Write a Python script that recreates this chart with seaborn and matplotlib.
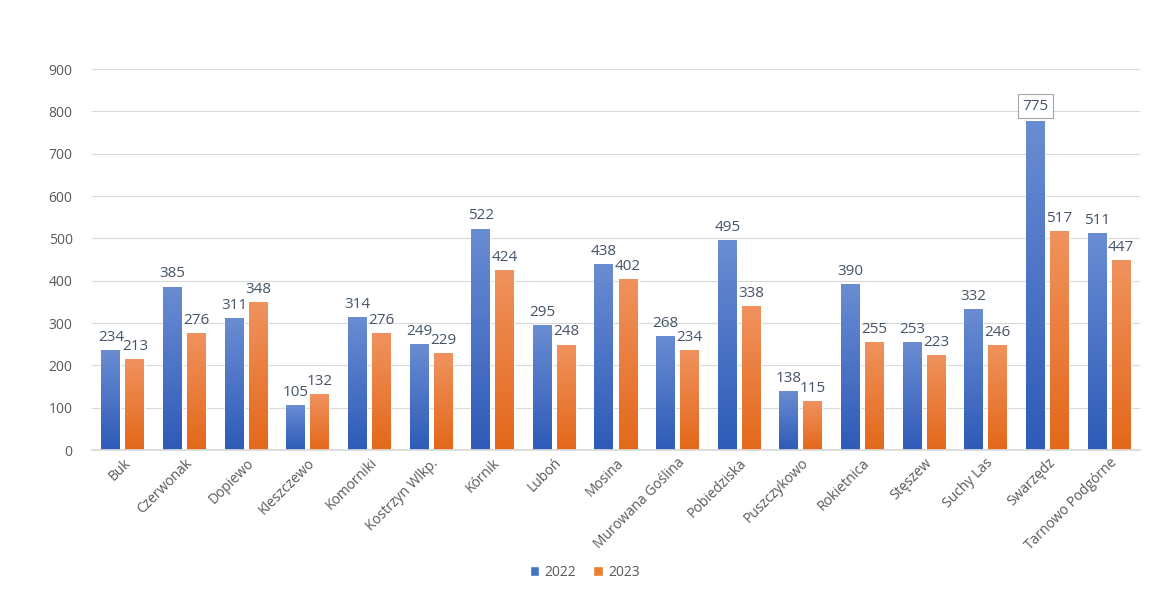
import numpy as np
import pandas as pd
import matplotlib
matplotlib.use("Agg")
import matplotlib.pyplot as plt
import matplotlib.colors as mcolors
from matplotlib.patches import Patch
import seaborn as sns

# Data
gminy = ['Buk', 'Czerwonak', 'Dopiewo', 'Kleszczewo', 'Komorniki', 'Kostrzyn Wlkp.',
         'Kórnik', 'Luboń', 'Mosina', 'Murowana Goślina', 'Pobiedziska', 'Puszczykowo',
         'Rokietnica', 'Stęszew', 'Suchy Las', 'Swarzędz', 'Tarnowo Podgórne']
values_2022 = [234, 385, 311, 105, 314, 249, 522, 295, 438, 268, 495, 138, 390, 253, 332, 775, 511]
values_2023 = [213, 276, 348, 132, 276, 229, 424, 248, 402, 234, 338, 115, 255, 223, 246, 517, 447]
years = ['2022', '2023']
y_ticks = list(range(0, 1000, 100))

# colours (top / bottom of gradient)
grad = {
    '2022': ('#6a8cd2', '#2e5bb8'),
    '2023': ('#f0925e', '#e3681a'),
}
legend_colors = {'2022': '#4472c4', '2023': '#ed7d31'}
text_color = '#595959'
label_color = '#44546a'

df = pd.DataFrame({
    'gmina': gminy * 2,
    'rok': ['2022'] * len(gminy) + ['2023'] * len(gminy),
    'value': values_2022 + values_2023,
})

sns.set_theme(style='white')
plt.rcParams['font.family'] = ['Open Sans', 'DejaVu Sans']

fig = plt.figure(figsize=(11.65, 5.94), dpi=100)
ax = fig.add_axes([0.079, 0.2424, 0.8995, 0.6414])

sns.barplot(data=df, x='gmina', y='value', hue='rok', hue_order=years,
            palette=legend_colors, width=0.78, gap=0.21, legend=False,
            saturation=1, ax=ax)

ax.set_ylim(0, 900)
ax.set_xlim(-0.5, len(gminy) - 0.5)
ax.autoscale(False)

# gradient fill of every bar (light at top, dark at bottom)
for year, container in zip(years, ax.containers):
    top, bottom = grad[year]
    cmap = mcolors.LinearSegmentedColormap.from_list('g' + year, [bottom, top])
    for bar in container:
        x, w, h = bar.get_x(), bar.get_width(), bar.get_height()
        img = np.linspace(0, 1, 256).reshape(-1, 1)
        ax.imshow(img, extent=[x, x + w, 0, h], origin='lower', aspect='auto',
                  cmap=cmap, vmin=0, vmax=1, zorder=2)
        bar.set_zorder(1)

# data labels; the maximum gets a boxed label like in the source chart
top_value = max(values_2022 + values_2023)
for year, container in zip(years, ax.containers):
    for bar in container:
        h = bar.get_height()
        cx = bar.get_x() + bar.get_width() / 2
        kw = {}
        dy = 4
        if h == top_value:
            kw['bbox'] = dict(boxstyle='square,pad=0.3', fc='white', ec='#a6a6a6', lw=0.8)
            dy = 6
        ax.annotate(f'{int(h)}', (cx, h), xytext=(0, dy), textcoords='offset points',
                    ha='center', va='bottom', fontsize=11, color=label_color, zorder=4, **kw)

ax.set_yticks(y_ticks)
ax.yaxis.grid(True, color='#d9d9d9', linewidth=0.8)
ax.set_axisbelow(True)
ax.tick_params(axis='y', labelsize=10, labelcolor=text_color, length=0, pad=14)
ax.tick_params(axis='x', labelsize=10, labelcolor=text_color, length=0, pad=4)
ax.set_xticks(range(len(gminy)))
ax.set_xticklabels(gminy, rotation=45, ha='right', rotation_mode='anchor')
ax.set_xlabel('')
ax.set_ylabel('')
for s in ['top', 'right', 'left']:
    ax.spines[s].set_visible(False)
ax.spines['bottom'].set_color('#d9d9d9')

handles = [Patch(facecolor=legend_colors[y], label=y) for y in years]
fig.legend(handles=handles, loc='center', bbox_to_anchor=(0.502, 0.037), ncol=2,
           frameon=False, fontsize=10, labelcolor=text_color, handlelength=0.7,
           handleheight=0.7, handletextpad=0.4, columnspacing=1.2)

fig.savefig('out.png', dpi=100, facecolor='white')
